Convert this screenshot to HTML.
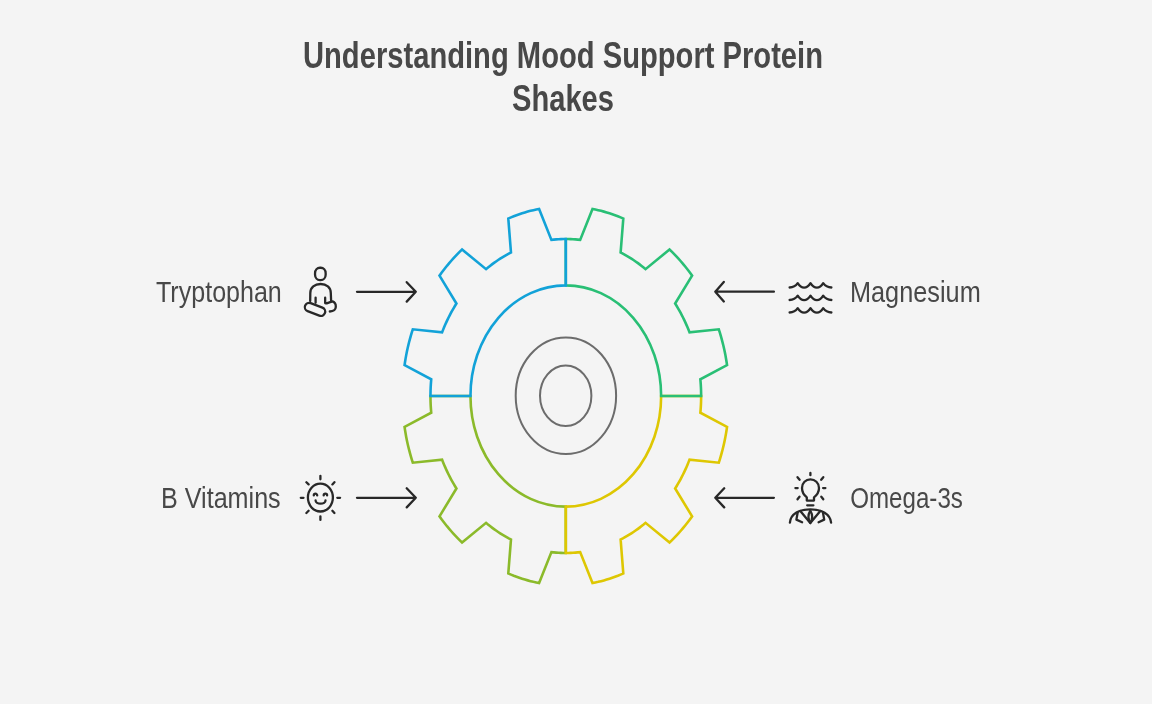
<!DOCTYPE html>
<html><head><meta charset="utf-8">
<style>
html,body{margin:0;padding:0;background:#F4F4F4;}
body{width:1152px;height:704px;overflow:hidden;position:relative;}
svg{position:absolute;left:0;top:0;will-change:transform;}
text{font-family:"Liberation Sans", sans-serif;}
</style></head><body>
<svg width="1152" height="704" viewBox="0 0 1152 704">
<rect width="1152" height="704" fill="#F4F4F4"/>
<g font-weight="bold" fill="#484848" font-size="36">
<text x="303" y="68.1" textLength="520" lengthAdjust="spacingAndGlyphs">Understanding Mood Support Protein</text>
<text x="512" y="111.2" textLength="102" lengthAdjust="spacingAndGlyphs">Shakes</text>
</g>
<g fill="#484848" font-size="30">
<text x="156" y="301.8" textLength="125.8" lengthAdjust="spacingAndGlyphs">Tryptophan</text>
<text x="850" y="301.9" textLength="130.7" lengthAdjust="spacingAndGlyphs">Magnesium</text>
<text x="161" y="507.6" textLength="119.7" lengthAdjust="spacingAndGlyphs">B Vitamins</text>
<text x="850.2" y="507.8" textLength="112.7" lengthAdjust="spacingAndGlyphs">Omega-3s</text>
</g>
<path d="M565.80,506.60 L565.80,553.00 L563.40,552.98 L561.00,552.90 L558.60,552.78 L556.20,552.60 L553.81,552.38 L551.42,552.11 L539.11,583.05 L536.25,582.47 L533.39,581.84 L530.55,581.14 L527.72,580.38 L524.90,579.57 L522.10,578.70 L519.31,577.77 L516.53,576.78 L513.77,575.74 L511.02,574.63 L508.30,573.48 L510.97,539.54 L508.78,538.39 L506.62,537.19 L504.46,535.95 L502.33,534.67 L500.22,533.34 L498.13,531.97 L496.06,530.55 L494.02,529.10 L491.99,527.60 L489.99,526.06 L488.01,524.48 L486.06,522.85 L462.06,542.51 L459.83,540.35 L457.64,538.14 L455.48,535.89 L453.36,533.59 L451.27,531.25 L449.21,528.87 L447.19,526.45 L445.22,523.98 L443.27,521.47 L441.37,518.93 L439.51,516.34 L456.45,488.50 L455.05,486.24 L453.69,483.94 L452.36,481.62 L451.07,479.27 L449.82,476.90 L448.60,474.50 L447.42,472.08 L446.27,469.63 L445.16,467.15 L444.09,464.66 L443.06,462.14 L442.07,459.61 L412.81,462.71 L411.82,459.54 L410.87,456.36 L409.97,453.16 L409.12,449.94 L408.32,446.70 L407.56,443.44 L406.86,440.17 L406.21,436.89 L405.61,433.59 L405.06,430.29 L404.56,426.97 L431.23,412.68 L431.00,409.91 L430.81,407.13 L430.66,404.35 L430.55,401.57 L430.49,398.79 L430.47,396.00 L470.46,396.00 A95.34,110.60 0 0 0 565.80,506.60 Z" fill="none" stroke="#8BBA2A" stroke-width="2.6" stroke-linejoin="miter"/>
<path d="M661.14,396.00 L701.13,396.00 L701.11,398.79 L701.05,401.57 L700.94,404.35 L700.79,407.13 L700.60,409.91 L700.37,412.68 L727.04,426.97 L726.54,430.29 L725.99,433.59 L725.39,436.89 L724.74,440.17 L724.04,443.44 L723.28,446.70 L722.48,449.94 L721.63,453.16 L720.73,456.36 L719.78,459.54 L718.79,462.71 L689.53,459.61 L688.54,462.14 L687.51,464.66 L686.44,467.15 L685.33,469.63 L684.18,472.08 L683.00,474.50 L681.78,476.90 L680.53,479.27 L679.24,481.62 L677.91,483.94 L676.55,486.24 L675.15,488.50 L692.09,516.34 L690.23,518.93 L688.33,521.47 L686.38,523.98 L684.41,526.45 L682.39,528.87 L680.33,531.25 L678.24,533.59 L676.12,535.89 L673.96,538.14 L671.77,540.35 L669.54,542.51 L645.54,522.85 L643.59,524.48 L641.61,526.06 L639.61,527.60 L637.58,529.10 L635.54,530.55 L633.47,531.97 L631.38,533.34 L629.27,534.67 L627.14,535.95 L624.98,537.19 L622.82,538.39 L620.63,539.54 L623.30,573.48 L620.58,574.63 L617.83,575.74 L615.07,576.78 L612.29,577.77 L609.50,578.70 L606.70,579.57 L603.88,580.38 L601.05,581.14 L598.21,581.84 L595.35,582.47 L592.49,583.05 L580.18,552.11 L577.79,552.38 L575.40,552.60 L573.00,552.78 L570.60,552.90 L568.20,552.98 L565.80,553.00 L565.80,506.60 A95.34,110.60 0 0 0 661.14,396.00 Z" fill="none" stroke="#DEC702" stroke-width="2.6" stroke-linejoin="miter"/>
<path d="M565.80,285.40 L565.80,239.00 L568.20,239.02 L570.60,239.10 L573.00,239.22 L575.40,239.40 L577.79,239.62 L580.18,239.89 L592.49,208.95 L595.35,209.53 L598.21,210.16 L601.05,210.86 L603.88,211.62 L606.70,212.43 L609.50,213.30 L612.29,214.23 L615.07,215.22 L617.83,216.26 L620.58,217.37 L623.30,218.52 L620.63,252.46 L622.82,253.61 L624.98,254.81 L627.14,256.05 L629.27,257.33 L631.38,258.66 L633.47,260.03 L635.54,261.45 L637.58,262.90 L639.61,264.40 L641.61,265.94 L643.59,267.52 L645.54,269.15 L669.54,249.49 L671.77,251.65 L673.96,253.86 L676.12,256.11 L678.24,258.41 L680.33,260.75 L682.39,263.13 L684.41,265.55 L686.38,268.02 L688.33,270.53 L690.23,273.07 L692.09,275.66 L675.15,303.50 L676.55,305.76 L677.91,308.06 L679.24,310.38 L680.53,312.73 L681.78,315.10 L683.00,317.50 L684.18,319.92 L685.33,322.37 L686.44,324.85 L687.51,327.34 L688.54,329.86 L689.53,332.39 L718.79,329.29 L719.78,332.46 L720.73,335.64 L721.63,338.84 L722.48,342.06 L723.28,345.30 L724.04,348.56 L724.74,351.83 L725.39,355.11 L725.99,358.41 L726.54,361.71 L727.04,365.03 L700.37,379.32 L700.60,382.09 L700.79,384.87 L700.94,387.65 L701.05,390.43 L701.11,393.21 L701.13,396.00 L661.14,396.00 A95.34,110.60 0 0 0 565.80,285.40 Z" fill="none" stroke="#29BF75" stroke-width="2.6" stroke-linejoin="miter"/>
<path d="M470.46,396.00 L430.47,396.00 L430.49,393.21 L430.55,390.43 L430.66,387.65 L430.81,384.87 L431.00,382.09 L431.23,379.32 L404.56,365.03 L405.06,361.71 L405.61,358.41 L406.21,355.11 L406.86,351.83 L407.56,348.56 L408.32,345.30 L409.12,342.06 L409.97,338.84 L410.87,335.64 L411.82,332.46 L412.81,329.29 L442.07,332.39 L443.06,329.86 L444.09,327.34 L445.16,324.85 L446.27,322.37 L447.42,319.92 L448.60,317.50 L449.82,315.10 L451.07,312.73 L452.36,310.38 L453.69,308.06 L455.05,305.76 L456.45,303.50 L439.51,275.66 L441.37,273.07 L443.27,270.53 L445.22,268.02 L447.19,265.55 L449.21,263.13 L451.27,260.75 L453.36,258.41 L455.48,256.11 L457.64,253.86 L459.83,251.65 L462.06,249.49 L486.06,269.15 L488.01,267.52 L489.99,265.94 L491.99,264.40 L494.02,262.90 L496.06,261.45 L498.13,260.03 L500.22,258.66 L502.33,257.33 L504.46,256.05 L506.62,254.81 L508.78,253.61 L510.97,252.46 L508.30,218.52 L511.02,217.37 L513.77,216.26 L516.53,215.22 L519.31,214.23 L522.10,213.30 L524.90,212.43 L527.72,211.62 L530.55,210.86 L533.39,210.16 L536.25,209.53 L539.11,208.95 L551.42,239.89 L553.81,239.62 L556.20,239.40 L558.60,239.22 L561.00,239.10 L563.40,239.02 L565.80,239.00 L565.80,285.40 A95.34,110.60 0 0 0 470.46,396.00 Z" fill="none" stroke="#12A2D8" stroke-width="2.6" stroke-linejoin="miter"/>

<ellipse cx="565.9" cy="395.7" rx="50.2" ry="58.3" fill="none" stroke="#6C6C6C" stroke-width="2"/>
<ellipse cx="565.7" cy="395.7" rx="25.7" ry="30.3" fill="none" stroke="#6C6C6C" stroke-width="2"/>
<g fill="none" stroke="#282828" stroke-width="2.3" stroke-linecap="round" stroke-linejoin="round">
<!-- meditation -->
<rect x="315.05" y="267.75" width="10.6" height="12.3" rx="4.9" ry="5.4"/>
<path d="M310.2,301.1 L310.3,293 C310.3,287.5 314.8,284 320.6,284 C326.4,284 330.8,287.5 330.8,293 L331.1,300.6"/>
<path d="M315.6,297.7 L315.6,302.8"/>
<path d="M325.15,297.7 L325.15,303 C325.6,304 327,303.2 329.4,302.4 L332.6,301.4 C334.8,302.2 335.9,304.5 335.8,307 C335.6,309.6 333,311.3 329.8,311.5"/>
<rect x="-10.6" y="-4.3" width="21.2" height="8.6" rx="4.3" transform="translate(315,309.4) rotate(21)"/>
<!-- waves -->
<path d="M789.6,287.5 C793.5,287.5 795.8,286 797.7,283.2 C799.6,286.2 801.6,287.7 804.1,287.7 C806.6,287.7 808.6,286.2 810.5,283.2 C812.4,286.2 814.4,287.7 816.9,287.7 C819.4,287.7 821.4,286.2 823.2,283.2 C825.2,286 827.5,287.5 831.4,287.5"/>
<path transform="translate(0,12.5)" d="M789.6,287.5 C793.5,287.5 795.8,286 797.7,283.2 C799.6,286.2 801.6,287.7 804.1,287.7 C806.6,287.7 808.6,286.2 810.5,283.2 C812.4,286.2 814.4,287.7 816.9,287.7 C819.4,287.7 821.4,286.2 823.2,283.2 C825.2,286 827.5,287.5 831.4,287.5"/>
<path transform="translate(0,25)" d="M789.6,287.5 C793.5,287.5 795.8,286 797.7,283.2 C799.6,286.2 801.6,287.7 804.1,287.7 C806.6,287.7 808.6,286.2 810.5,283.2 C812.4,286.2 814.4,287.7 816.9,287.7 C819.4,287.7 821.4,286.2 823.2,283.2 C825.2,286 827.5,287.5 831.4,287.5"/>
<!-- sun -->
<ellipse cx="320.4" cy="497.6" rx="12.5" ry="13.9"/>
<path d="M320.4,475.8 V479.3 M320.4,516.3 V519.9 M300.8,497.8 H303.5 M337.3,497.8 H340.1 M306.4,482.2 L308.6,484.4 M334.4,482.2 L332.4,484.4 M306.4,513 L308.6,510.8 M334.4,513 L332.4,510.8"/>
<path d="M313.8,495.4 A1.7,1.7 0 0 1 317.2,495.4 M323.7,495.4 A1.7,1.7 0 0 1 327.1,495.4 M315.6,500.5 A4.95,3.2 0 0 0 325.5,500.5"/>
<!-- bulb person -->
<path d="M810.4,472.9 V475.2 M797.5,477.2 L799.6,479.8 M823.3,477.2 L821.2,479.8 M795.4,488.1 H797.7 M823.1,488.1 H825.4 M797.5,499.3 L799.5,496.7 M823.3,499.3 L821.3,496.7"/>
<path d="M806.8,500.6 L806.8,497.3 C803.8,495 802,491.8 802,488 C802,482.8 805.8,479.4 810.4,479.4 C815,479.4 819,482.8 819,488 C819,491.8 817,495 814,497.3 L814,500.6 Z"/>
<path d="M807.2,505.3 H813.4"/>
<path d="M789.9,522.7 C790.5,514 799,509.4 810.3,509.4 C821.6,509.4 830.3,514 831.1,522.7"/>
<path d="M800.3,510.9 L810.3,523.1 L820.3,510.9"/>
<path d="M810.3,510.5 Q806.6,517 810.3,523 Q814,517 810.3,510.5"/>
<path d="M797.7,512.2 L796.4,519.6 L802.1,522.2 M822.9,512.2 L824.2,519.6 L818.6,522.2"/>
<!-- arrows -->
<path d="M357,291.8 H415.8 M406.7,282.2 L415.8,291.8 L406.7,301.6"/>
<path d="M357,497.8 H415.8 M406.7,488.3 L415.8,497.8 L406.7,507.4"/>
<path d="M773.9,291.7 H715.3 M723.8,281.9 L715.3,291.7 L723.8,301.5"/>
<path d="M773.9,497.8 H715.3 M724.2,488.3 L715.3,497.8 L724.2,507.4"/>
</g>
</svg>
</body></html>
